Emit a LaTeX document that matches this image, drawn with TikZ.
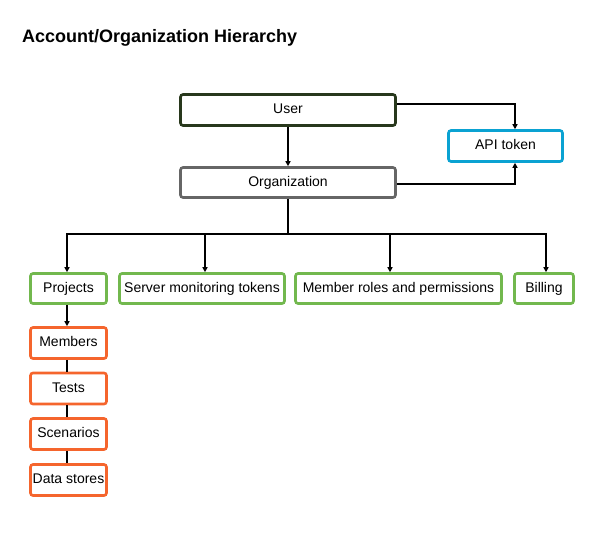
\documentclass[tikz,border=0pt]{standalone}
\usepackage{fontspec}
\setmainfont{Liberation Sans}
\usetikzlibrary{arrows.meta}
\definecolor{userline}{RGB}{40,56,28}
\definecolor{apiline}{RGB}{10,162,210}
\definecolor{orgline}{RGB}{102,102,102}
\definecolor{leafgreen}{RGB}{114,184,78}
\definecolor{leaforange}{RGB}{245,101,45}
\tikzset{
  box/.style={draw, line width=2.6pt, rounded corners=2.5pt, inner sep=0pt,
    minimum height=30pt, font=\fontsize{14}{16}\selectfont, fill=white,
    text height=0.75em, text depth=0pt},
  greenbox/.style={box, draw=leafgreen},
  orangebox/.style={box, draw=leaforange, minimum width=76pt},
  link/.style={line width=1.5pt},
  arr/.style={link, -{Triangle[length=5pt,width=5pt]}}
}
\begin{document}
\begin{tikzpicture}[x=1pt, y=-1pt]
			%%%%% frame %%%%%
			\useasboundingbox (0, 0) rectangle (600, 550);
			
			\node[anchor=base west, inner sep=0pt, font=\fontsize{18}{20}\selectfont\bfseries] (title) at (22, 42) {Account/Organization Hierarchy};
			
			%%%%% top %%%%%
			\node[box, draw=userline, minimum width=215pt, minimum height=31pt] (user) at (288, 110) {User};
			\node[box, draw=apiline, minimum width=114pt, minimum height=31pt] (api) at (505.5, 146) {API token};
			\node[box, draw=orgline, minimum width=215pt] (org) at (288, 182.5) {Organization};
			
			%%%%% second row %%%%%
			\node[greenbox, minimum width=76pt] (proj) at (68.5, 288.5) {Projects};
			\node[greenbox, minimum width=165pt] (smt) at (202, 288.5) {Server monitoring tokens};
			\node[greenbox, minimum width=206pt] (mrp) at (398.5, 288.5) {Member roles and permissions};
			\node[greenbox, minimum width=59pt] (bill) at (544, 288.5) {Billing};
			
			%%%%% project column %%%%%
			\node[orangebox, minimum height=31pt] (members) at (68.5, 343) {Members};
			\node[orangebox, minimum height=31pt] (tests) at (68.5, 388.5) {Tests};
			\node[orangebox, minimum height=31pt] (scen) at (68.5, 434) {Scenarios};
			\node[orangebox, minimum height=31pt] (data) at (68.5, 480) {Data stores};
			
			%%%%% links %%%%%
			\draw[arr] (user) -- (org);
			\draw[arr] ([yshift=6pt]user.east) -| ([xshift=9.5pt]api.north);
			\draw[arr] ([yshift=-1.5pt]org.east) -| ([xshift=9.5pt]api.south);
			
			\coordinate (bus) at (288, 234);
			\draw[link] (org) -- (bus);
			\draw[arr] (bus) -| ([xshift=-1.5pt]proj.north);
			\draw[arr] (bus) -| ([xshift=3pt]smt.north);
			\draw[arr] (bus) -| ([xshift=-8.5pt]mrp.north);
			\draw[arr] (bus) -| ([xshift=2pt]bill.north);
			
			\draw[arr] ([xshift=-1.5pt]proj.south) -- ([xshift=-1.5pt]members.north);
			\foreach \a/\b in {members/tests, tests/scen, scen/data}
				\draw[link] ([xshift=-1.5pt]\a.south) -- ([xshift=-1.5pt]\b.north);
			
\end{tikzpicture}
\end{document}
